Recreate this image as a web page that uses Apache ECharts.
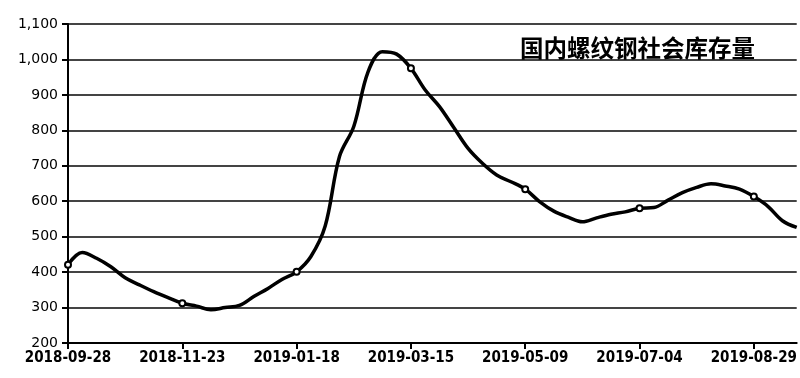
<!DOCTYPE html>
<html>
<head>
<meta charset="utf-8">
<script src="https://cdn.jsdelivr.net/npm/echarts@6/dist/echarts.min.js"></script>
<style>
html,body{margin:0;padding:0;background:#fff;}
#c{width:800px;height:378px;}
</style>
</head>
<body>
<div id="c"></div>
<script>
const titleText = '国内螺纹钢社会库存量';
const dates = [
 '2018-09-28','2018-10-05','2018-10-12','2018-10-19','2018-10-26','2018-11-02','2018-11-09','2018-11-16',
 '2018-11-23','2018-11-30','2018-12-07','2018-12-14','2018-12-21','2018-12-28','2019-01-04','2019-01-11',
 '2019-01-18','2019-01-25','2019-02-01','2019-02-08','2019-02-15','2019-02-22','2019-03-01','2019-03-08',
 '2019-03-15','2019-03-22','2019-03-29','2019-04-04','2019-04-12','2019-04-19','2019-04-26','2019-04-30',
 '2019-05-09','2019-05-16','2019-05-23','2019-05-30','2019-06-06','2019-06-13','2019-06-20','2019-06-27',
 '2019-07-04','2019-07-11','2019-07-18','2019-07-25','2019-08-01','2019-08-08','2019-08-15','2019-08-22',
 '2019-08-29','2019-09-05','2019-09-12','2019-09-19'
];
const stock = [
 421, 455, 439, 415, 384, 364, 345, 328,
 312, 304, 294, 300, 306, 331, 354, 380,
 401, 444, 530, 726, 811, 965, 1022, 1015,
 975, 914, 867, 808, 749, 707, 674, 655,
 634, 599, 572, 555, 542, 553, 563, 570,
 580, 582, 603, 624, 639, 649, 643, 634,
 613, 585, 545, 526
];
const yTicks = { min: 200, max: 1100, step: 100 };

const chart = echarts.init(document.getElementById('c'), null, { renderer: 'canvas' });
chart.setOption({
  animation: false,
  backgroundColor: '#fff',
  title: {
    text: titleText,
    left: 515, top: 31,
    textStyle: { fontFamily: 'Noto Sans CJK SC', fontWeight: 'bold', fontSize: 23.5, color: '#000' }
  },
  grid: { left: 68, right: 0, top: 24, bottom: 35, containLabel: false },
  xAxis: {
    type: 'category',
    data: dates,
    boundaryGap: false,
    axisLine: { lineStyle: { color: '#000', width: 2 } },
    axisTick: { interval: 7, length: 6, lineStyle: { color: '#000', width: 2 } },
    axisLabel: {
      interval: 7, margin: 8, color: '#000',
      fontFamily: 'DejaVu Sans Condensed, DejaVu Sans', fontWeight: 'bold', fontSize: 15
    },
    splitLine: { show: false }
  },
  yAxis: {
    type: 'value',
    min: yTicks.min, max: yTicks.max, interval: yTicks.step,
    axisLine: { show: true, lineStyle: { color: '#000', width: 2 } },
    axisTick: { show: true, length: 6, lineStyle: { color: '#000', width: 2 } },
    axisLabel: {
      margin: 10, color: '#000', fontFamily: 'DejaVu Sans', fontSize: 14,
      formatter: v => v.toLocaleString('en-US')
    },
    splitLine: { lineStyle: { color: '#444', width: 1.8 } }
  },
  series: [{
    type: 'line',
    data: stock,
    smooth: 0.35,
    symbol: (val, p) => (p.dataIndex % 8 === 0 ? 'emptyCircle' : 'none'),
    symbolSize: 6,
    showAllSymbol: true,
    lineStyle: { color: '#000', width: 3.5 },
    itemStyle: { color: '#000', borderColor: '#000', borderWidth: 1.2 }
  }]
});
</script>
</body>
</html>
